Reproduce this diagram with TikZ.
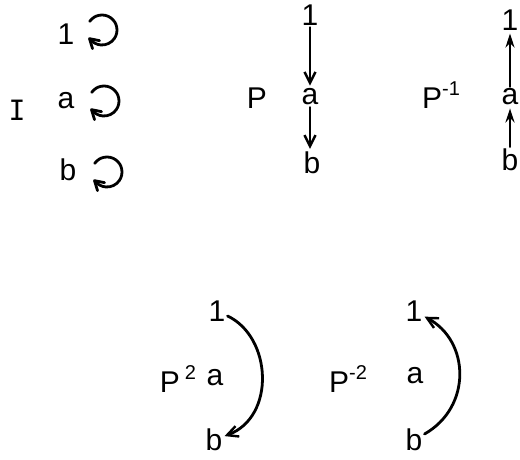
\documentclass[tikz,border=0pt]{standalone}
\usepackage{fontspec}
\setmainfont{Liberation Sans}
\newfontfamily\serifI{DejaVu Sans Mono}
\usetikzlibrary{arrows.meta}
\begin{document}
\begin{tikzpicture}[x=1pt,y=1pt,
  lbl/.style={inner sep=2pt,font=\fontsize{30}{34}\selectfont},
  conn/.style={line width=2.8pt,line cap=round,line join=round},
  barb/.style={-{Straight Barb[length=11pt,width=11pt,line width=2.4pt]}},
  sharp/.style={-{Stealth[length=14pt,width=9pt]}}]
\useasboundingbox (0,0) rectangle (520,459);
% Panel I
\node[lbl,font=\serifI\fontsize{28}{32}\selectfont] (I) at (17,349) {I};
\node[lbl] (i1) at (66,425) {1};
\node[lbl] (ia) at (66,358) {a};
\node[lbl] (ib) at (68,289) {b};
\foreach \n/\cx/\cy in {l1/102/429, l2/104/358, l3/107/287} {
  \coordinate (\n c) at (\cx,\cy);
  \coordinate (\n t) at ([shift={(-140:15)}]\n c);
  \draw[conn] ([shift={(145:15)}]\n c) arc[start angle=145,end angle=-140,radius=15];
  \draw[conn] ([shift={(9,-1)}]\n t) -- ([shift={(-1,1)}]\n t) -- ([shift={(2,-9)}]\n t);
}
% Panel P
\node[lbl] (P) at (257,361) {P};
\node[lbl] (p1) at (310,444) {1};
\node[lbl] (pa) at (310,362) {a};
\node[lbl] (pb) at (312,296) {b};
\draw[conn,barb,shorten >=1pt] (p1) -- (pa);
\draw[conn,barb,shorten >=1pt] (pa.south) -- (pa.south |- pb.north);
% Panel P^-1
\node[lbl] (Pm) at (441,364) {P\raisebox{0.42em}{\fontsize{20}{22}\selectfont -1}};
\node[lbl] (m1) at (510,439) {1};
\node[lbl] (ma) at (510,362) {a};
\node[lbl] (mb) at (510,299) {b};
\draw[conn,sharp,shorten >=1pt] (mb) -- (ma);
\draw[conn,sharp,shorten >=1pt] (ma) -- (m1);
% Panel P^2
\node[lbl] (P2) at (178,80) {P\,\raisebox{0.42em}{\fontsize{20}{22}\selectfont 2}};
\node[lbl] (q1) at (217,148) {1};
\node[lbl] (qa) at (215,81) {a};
\node[lbl] (qb) at (214,19) {b};
\draw[conn,barb] (q1) .. controls (272,122) and (276,42) .. (qb);
% Panel P^-2
\node[lbl] (Pm2) at (348,80) {P\raisebox{0.42em}{\fontsize{20}{22}\selectfont -2}};
\node[lbl] (r1) at (414,148) {1};
\node[lbl] (ra) at (415,83) {a};
\node[lbl] (rb) at (414,19) {b};
\draw[conn,barb] (rb) .. controls (472,52) and (470,118) .. (r1);
\end{tikzpicture}
\end{document}
